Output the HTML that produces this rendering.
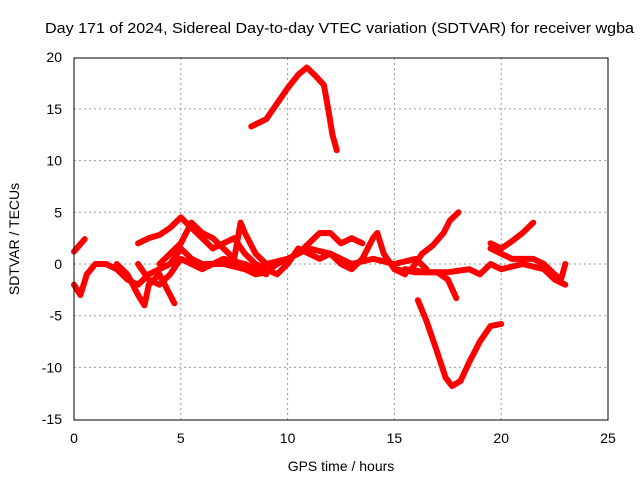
<!DOCTYPE html>
<html><head><meta charset="utf-8"><style>
body{margin:0;background:#fff;}
svg{display:block;font-family:"Liberation Sans",sans-serif;font-size:14px;}
</style></head><body>
<svg id="chart" width="640" height="480">
<text x="45" y="33" font-size="15" textLength="589" lengthAdjust="spacingAndGlyphs">Day 171 of 2024, Sidereal Day-to-day VTEC variation (SDTVAR) for receiver wgba</text>
<g id="grid"></g>
<g id="ticks"></g>
<g id="series"></g>
<rect x="74" y="58" width="534" height="362" fill="none" stroke="#000"/>
<text x="341" y="471" text-anchor="middle">GPS time / hours</text>
<text transform="translate(19,239) rotate(-90)" text-anchor="middle">SDTVAR / TECUs</text>
</svg>
<script>
const xTicks=[0,5,10,15,20,25];
const yTicks=[20,15,10,5,0,-5,-10,-15];
const trackTop=[[8.3,13.3],[9,14],[9.5,15.5],[10,17],[10.5,18.3],[10.9,19],[11.3,18.2],[11.7,17.3],[11.9,15],[12.1,12.5],[12.3,11]];
const trackDip=[[16.1,-3.5],[16.5,-5.5],[17,-8.5],[17.4,-11],[17.7,-11.8],[18.1,-11.3],[18.5,-9.5],[19,-7.5],[19.5,-6],[20,-5.8]];
const trackRise=[[15.8,-0.5],[16.3,1],[16.8,1.8],[17.3,3],[17.6,4.2],[18,5]];
const trackLate=[[19.5,2],[20,1.5],[20.5,2.2],[21,3],[21.5,4]];
const trackA=[[0,1.2],[0.5,2.4]];
const trackB=[[0,-2],[0.3,-3],[0.6,-1],[1,0],[1.5,0],[2,-0.5],[2.5,-1.5],[3,-2],[3.5,-1],[4,-0.5],[4.5,0],[5,1.5],[5.5,0.5],[6,0],[7,0],[8,-0.5],[8.5,-1],[9,-0.8],[9.5,0],[10,0.5],[10.5,1],[11,2],[11.5,3],[12,3],[12.5,2],[13,2.5],[13.5,2]];
const trackC=[[2,0],[2.5,-1],[3,-3],[3.3,-4],[3.5,-2],[4,-1],[4.5,-3],[4.7,-3.8]];
const trackD=[[3,2],[3.5,2.5],[4,2.8],[4.5,3.5],[5,4.5],[5.5,3.5],[6,2.5],[6.5,1.5],[7,2],[7.5,2.5],[8,1],[8.5,0],[9,-0.5],[9.5,-1],[10,0],[10.5,1.5],[11,1],[11.5,0.5],[12,1],[12.5,0],[13,-0.5],[13.5,0.5],[14,2.5],[14.2,3],[14.5,1],[15,-0.5],[15.5,-1]];
const trackE=[[4,0],[4.5,1],[5,2],[5.5,4],[6,3],[6.5,2.5],[7,1.5],[7.5,0.5],[7.8,4],[8,3],[8.5,1],[9,0],[10,0.5],[11,1.5],[12,1],[13,0],[14,0.5],[15,0],[16,0.5],[16.5,-0.5]];
const trackF=[[3,0],[3.5,-1.5],[4,-2],[4.5,-1],[5,0.5],[5.5,0],[6,-0.5],[7,0.5],[8,0],[9,-1]];
const trackG=[[15,-0.5],[16,-0.8],[17,-0.8],[17.5,-1.5],[17.9,-3.3]];
const trackH=[[15.5,-0.5],[16.5,-0.8],[17.5,-0.8],[18.5,-0.5],[19,-1],[19.5,0],[20,-0.5],[21,0],[22,-0.5],[22.5,-1.5],[23,-2]];
const trackI=[[19.5,1.5],[20.5,0.5],[21.5,0.5],[22,0],[22.5,-1],[22.8,-1.5],[23,0]];
const tracks=[trackTop,trackDip,trackRise,trackLate,trackA,trackB,trackC,trackD,trackE,trackF,trackG,trackH,trackI];
const X=v=>74+v*534/25, Y=v=>264-v*10.343;
const NS="http://www.w3.org/2000/svg";
const grid=document.getElementById('grid'),ticks=document.getElementById('ticks'),ser=document.getElementById('series');
function mk(tag,attrs,parent){const e=document.createElementNS(NS,tag);for(const k in attrs)e.setAttribute(k,attrs[k]);parent.appendChild(e);return e;}
xTicks.forEach(t=>{
 if(t>0&&t<25){const l=mk('line',{x1:X(t),x2:X(t),y1:58,y2:420,stroke:'#999','stroke-dasharray':'2,3'},grid);
 
 }
 const tx=mk('text',{x:X(t),y:443,'text-anchor':'middle'},ticks);tx.textContent=t;
 
 
});
yTicks.forEach(t=>{
 if(t<20&&t>-15){const l=mk('line',{x1:74,x2:608,y1:Y(t),y2:Y(t),stroke:'#999','stroke-dasharray':'2,3'},grid);
 
 }
 const tx=mk('text',{x:62,y:Y(t)+5,'text-anchor':'end'},ticks);tx.textContent=t;
 
 
});
tracks.forEach(tr=>{
 const p=mk('polyline',{points:tr.map(d=>X(d[0])+','+Y(d[1])).join(' '),fill:'none',stroke:'#f00','stroke-width':6,'stroke-linejoin':'round','stroke-linecap':'round'},ser);
 
 
});
</script>
</body></html>
